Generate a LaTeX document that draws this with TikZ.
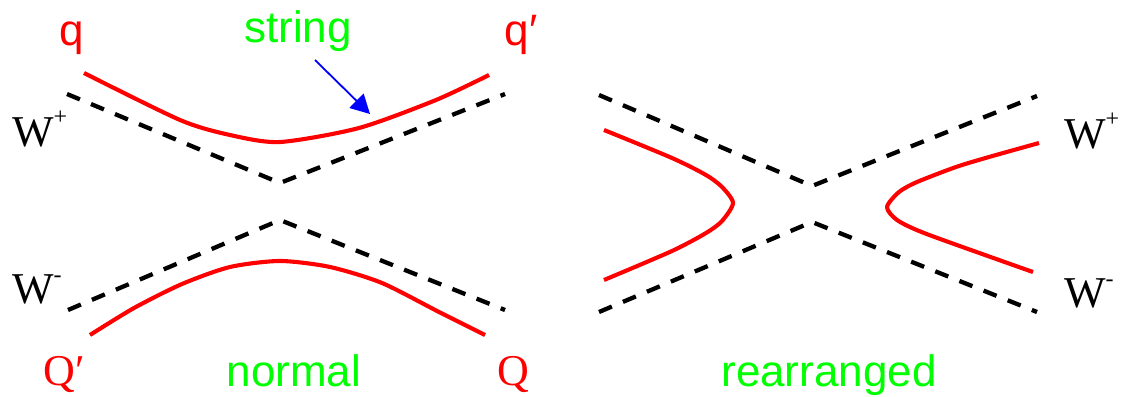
\documentclass[tikz,border=0pt]{standalone}
\usepackage{fontspec}
\setmainfont{Liberation Sans}
\newfontfamily\serifW{Liberation Serif}
\usetikzlibrary{arrows.meta}
\definecolor{pgreen}{RGB}{0,255,0}
\definecolor{pred}{RGB}{255,0,0}
\definecolor{pblue}{RGB}{0,0,255}
\newcommand{\supP}{\raisebox{22pt}{\fontsize{24}{24}\selectfont +}}
\newcommand{\supM}{\raisebox{21pt}{\fontsize{24}{24}\selectfont -}}
\begin{document}
\begin{tikzpicture}[x=1pt,y=-1pt,
  wline/.style={black, line width=4.3pt, dash pattern=on 14pt off 12pt},
  strline/.style={pred, line width=4.1pt, line join=round, line cap=butt},
  lbl/.style={anchor=base, inner sep=0pt, font=\fontsize{44}{50}\selectfont},
  qlbl/.style={lbl, text=pred},
  glbl/.style={lbl, text=pgreen},
  wlbl/.style={lbl, anchor=base west, font=\fontsize{44}{50}\selectfont\serifW}]
\path[use as bounding box] (0,0) rectangle (1121,396);

% ---------- normal ----------
\draw[wline] (67,94) -- (280,183) -- (505,94);
\draw[wline] (68,310) -- (280,220) -- (505,310);
\draw[strline] plot[smooth, tension=0.45] coordinates {(84,73) (180,120) (230,135) (280,142) (359,128) (436,100) (489,75)};
\draw[strline] plot[smooth, tension=0.45] coordinates {(90,335) (134,308) (182,284) (230,267) (280,261) (330,267) (382,283) (439,312) (485,335)};

\node[qlbl] (nq) at (72,46) {q};
\node[qlbl] (nqp) at (521,46) {q′};
\node[glbl] (nstr) at (298,43) {string};
\node[wlbl] (nWpL) at (12,146) {W\supP};
\node[wlbl] (nWmL) at (12,303) {W\supM};
\node[qlbl, font=\fontsize{44}{50}\selectfont\serifW] (nQp) at (64,385) {Q′};
\node[qlbl, font=\fontsize{44}{50}\selectfont\serifW] (nQ) at (513,385) {Q};
\node[glbl] (nnormal) at (294,386) {normal};

\coordinate (arS) at (315,60);
\coordinate (arE) at (370,114);
\draw[pblue, line width=1.8pt, -{Triangle[length=19pt, width=20pt]}] (arS) -- (arE);

% ---------- rearranged ----------
\draw[wline] (599,95) -- (812,186) -- (1037,96);
\draw[wline] (599,312) -- (812,222) -- (1037,312);
\draw[strline] plot[smooth, tension=0.45] coordinates {(604,130) (672,158) (706,175) (722,187) (733,203) (722,221) (706,233) (672,251) (604,280)};
\draw[strline] plot[smooth, tension=0.45] coordinates {(1039,143) (989,157) (956,167) (917,182) (899,192) (887,207) (897,220) (924,233) (999,260) (1033,272)};

\node[wlbl] (nWpR) at (1064,148) {W\supP};
\node[wlbl] (nWmR) at (1064,307) {W\supM};
\node[glbl] (nrearr) at (829,386) {rearranged};
\end{tikzpicture}
\end{document}
